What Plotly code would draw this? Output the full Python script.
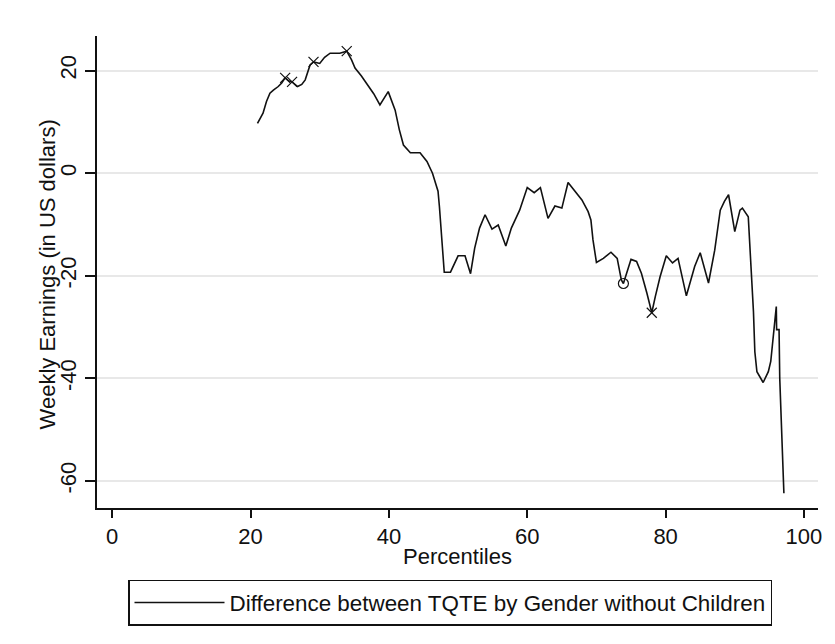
import plotly.graph_objects as go

# Percentile positions and values
percentiles = [21.0, 21.8, 22.3, 22.8, 23.3, 24.0, 24.5, 25.0, 25.5, 26.0, 26.8, 27.4, 27.9,
               28.6, 29.1, 30.0, 30.7, 31.5, 32.9, 33.9, 34.6, 35.1, 36.0, 36.8, 37.8, 38.7,
               39.9, 40.9, 41.5, 42.1, 43.1, 44.5, 45.5, 46.3, 46.9, 47.1, 47.3, 47.6, 47.9,
               48.0, 48.9, 49.5, 50.0, 51.0, 51.8, 52.4, 53.1, 53.9, 54.9, 55.8, 56.9, 57.7,
               58.9, 60.0, 61.0, 61.9, 63.0, 64.0, 65.0, 65.9, 66.9, 67.9, 68.8, 69.2, 69.5,
               70.0, 71.0, 72.1, 73.0, 73.6, 73.9, 74.4, 75.0, 75.8, 76.5, 77.3, 78.0, 78.5,
               79.2, 80.1, 81.0, 81.8, 83.0, 84.2, 85.0, 86.2, 87.1, 87.9, 88.5, 89.1, 90.0,
               90.75, 91.1, 91.95, 92.1, 92.45, 92.7, 92.9, 93.2, 94.1, 94.85, 95.2, 95.4,
               95.6, 95.8, 96.0, 96.05, 96.4, 96.5, 96.75, 97.0, 97.1]
difference = [9.7, 11.7, 14.0, 15.6, 16.2, 16.9, 17.6, 18.6, 18.0, 17.8, 16.9, 17.3, 18.2,
              21.1, 21.7, 21.4, 22.6, 23.4, 23.4, 23.8, 22.1, 20.5, 19.0, 17.5, 15.5, 13.3,
              15.9, 12.3, 8.5, 5.5, 4.0, 4.0, 2.3, 0.0, -2.3, -3.5, -6.5, -11.7, -16.6,
              -19.3, -19.3, -17.5, -16.1, -16.1, -19.6, -14.6, -10.7, -8.1, -10.9, -10.1, -14.2, -10.7,
              -7.2, -2.8, -3.8, -2.8, -8.8, -6.4, -6.8, -1.8, -3.6, -5.2, -7.5, -9.1, -13.0,
              -17.4, -16.6, -15.4, -16.6, -20.8, -21.5, -19.5, -16.8, -17.2, -19.5, -23.4, -27.2, -24.1,
              -20.2, -16.1, -17.5, -16.6, -23.9, -18.2, -15.5, -21.4, -15.0, -7.2, -5.5, -4.2, -11.4,
              -7.2, -6.8, -8.5, -12.4, -19.8, -27.0, -34.8, -38.7, -40.8, -38.7, -36.7, -33.8,
              -30.5, -28.0, -26.0, -30.5, -30.5, -40.0, -49.1, -58.5, -62.4]

# Point markers visible on the line
marker_x = [25.0, 26.0, 29.1, 33.9, 78.0, 73.9]
marker_y = [18.6, 17.8, 21.7, 23.8, -27.2, -21.5]
marker_symbols = ["x-thin-open", "x-thin-open", "x-thin-open", "x-thin-open", "x-thin-open", "circle-open"]

x_ticks = [0, 20, 40, 60, 80, 100]
x_tick_labels = ["0", "20", "40", "60", "80", "100"]
y_ticks = [-60, -40, -20, 0, 20]
y_tick_labels = ["-60", "-40", "-20", "0", "20"]

legend_label = "Difference between TQTE by Gender without Children"
x_title = "Percentiles"
y_title = "Weekly Earnings (in US dollars)"

FONT = "Liberation Sans, Arial, sans-serif"
INK = "#111111"

fig = go.Figure()
fig.add_trace(go.Scatter(
    x=percentiles, y=difference, mode="lines", name=legend_label,
    line=dict(color=INK, width=1.6),
))
fig.add_trace(go.Scatter(
    x=marker_x, y=marker_y, mode="markers", showlegend=False, hoverinfo="skip",
    marker=dict(symbol=marker_symbols, size=10, color=INK,
                line=dict(color=INK, width=1.2)),
))

# page body has an 8px margin, so the figure is sized to fit inside the window
fig.update_layout(
    width=819, height=628,
    paper_bgcolor="white", plot_bgcolor="white",
    margin=dict(l=89, r=9, t=28, b=128),
    font=dict(family=FONT, size=22, color=INK),
    xaxis=dict(
        range=[-2.2, 102.03], tickvals=x_ticks, ticktext=x_tick_labels,
        ticks="outside", ticklen=8, tickwidth=1.5,
        tickcolor=INK, showline=True, linecolor=INK, linewidth=1.5,
        showgrid=False, zeroline=False, automargin=False,
        title=dict(text=x_title, standoff=0, font=dict(size=22)),
        tickfont=dict(size=22),
    ),
    yaxis=dict(
        range=[-65.27, 26.75], tickvals=y_ticks, ticktext=y_tick_labels,
        ticks="outside", ticklen=10, tickwidth=1.5,
        tickcolor=INK, showline=True, linecolor=INK, linewidth=1.5,
        showgrid=True, gridcolor="#e8e8e8", gridwidth=1.5, zeroline=False,
        automargin=False,
        tickangle=-90, tickfont=dict(size=22),
    ),
    annotations=[dict(
        text=y_title, textangle=-90, xref="paper", yref="paper",
        x=-0.0693, y=0.495, xanchor="center", yanchor="middle",
        showarrow=False, font=dict(size=22, color=INK),
    )],
    legend=dict(
        orientation="h", x=0.043, xanchor="left", y=-0.1525, yanchor="top",
        bordercolor=INK, borderwidth=1.5, bgcolor="white",
        font=dict(size=22.4), itemwidth=90,
    ),
    showlegend=True,
)

fig.write_html("out.html")
